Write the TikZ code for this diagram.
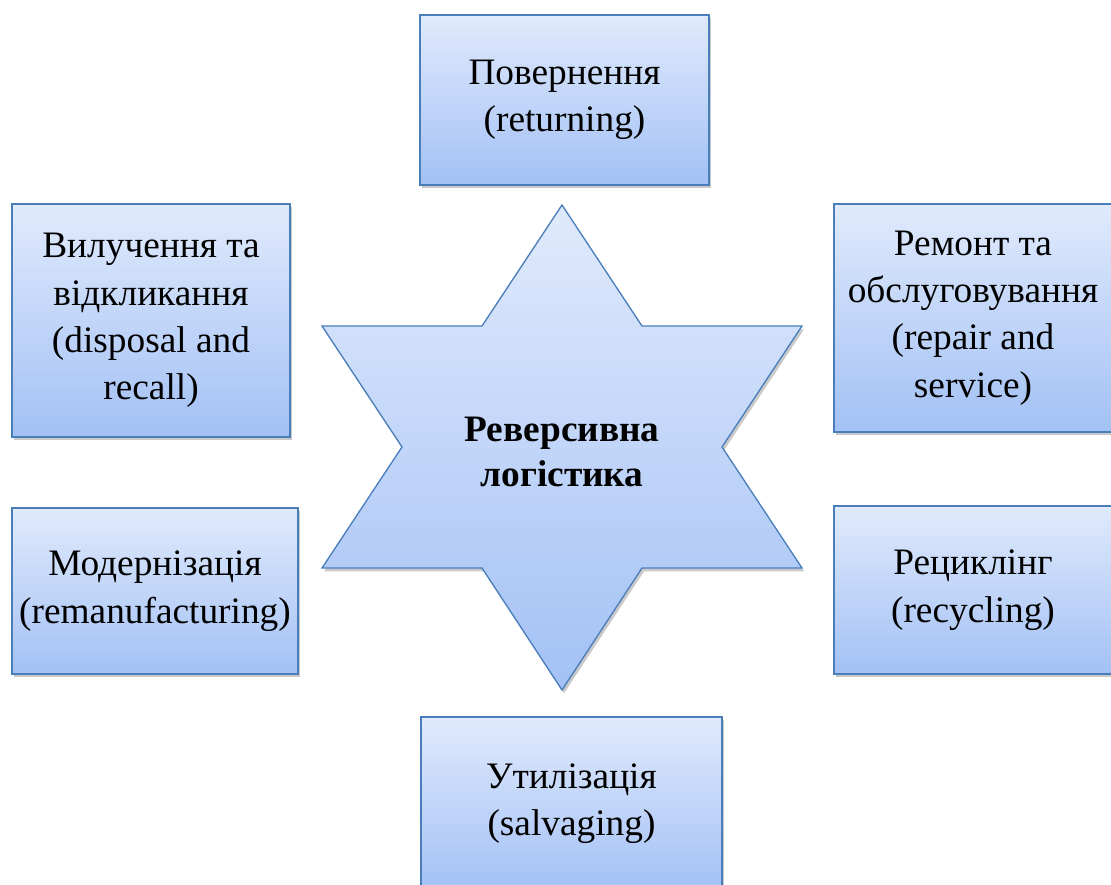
\documentclass[tikz,border=0pt]{standalone}
\usepackage{fontspec}
\setmainfont{Liberation Serif}
\usetikzlibrary{shadows}
\definecolor{bordc}{RGB}{74,126,187}
\definecolor{topc}{RGB}{224,234,252}
\definecolor{botc}{RGB}{163,193,245}
\tikzset{
  box/.style={draw=bordc, line width=1pt, top color=topc, bottom color=botc,
    align=center, inner sep=0pt,
    font=\fontsize{28}{35.5}\selectfont,
    drop shadow={shadow xshift=1.5pt, shadow yshift=-2.5pt, opacity=0.3, fill=black!70}},
  starshape/.style={draw=bordc, line width=1pt, top color=topc, bottom color=botc,
    drop shadow={shadow xshift=1.5pt, shadow yshift=-2.5pt, opacity=0.3, fill=black!70}},
  startext/.style={align=center, inner sep=0pt, font=\fontsize{28}{33.75}\selectfont\bfseries}
}
\begin{document}
\begin{tikzpicture}[x=0.75pt, y=-0.75pt]
\useasboundingbox (0,0) rectangle (1111,885);
\node[box, minimum width=216.75pt, minimum height=127.5pt] (ret) at (564.5,100) {Повернення\\(returning)};
\node[box, minimum width=208.5pt, minimum height=174.75pt] (disp) at (151,320.5) {Вилучення та\\відкликання\\(disposal and\\recall)};
\node[box, minimum width=214.5pt, minimum height=124.5pt] (mod) at (155,591) {Модернізація\\(remanufacturing)};
\node[box, minimum width=208.5pt, minimum height=171pt] (rep) at (973,318) {Ремонт та\\обслуговування\\(repair and\\service)};
\node[box, minimum width=208.5pt, minimum height=126pt] (rec) at (973,590) {Рециклінг\\(recycling)};
\node[box, minimum width=225.75pt, minimum height=129.75pt] (salv) at (571.5,803.5) {Утилізація\\(salvaging)};
\path[starshape] (562,205) -- (642,326) -- (802,326) -- (722,447) -- (802,568)
  -- (642,568) -- (562,690) -- (482,568) -- (322,568) -- (402,447) -- (322,326)
  -- (482,326) -- cycle;
\node[startext] (center) at (562,452) {Реверсивна\\логістика};
\end{tikzpicture}
\end{document}
